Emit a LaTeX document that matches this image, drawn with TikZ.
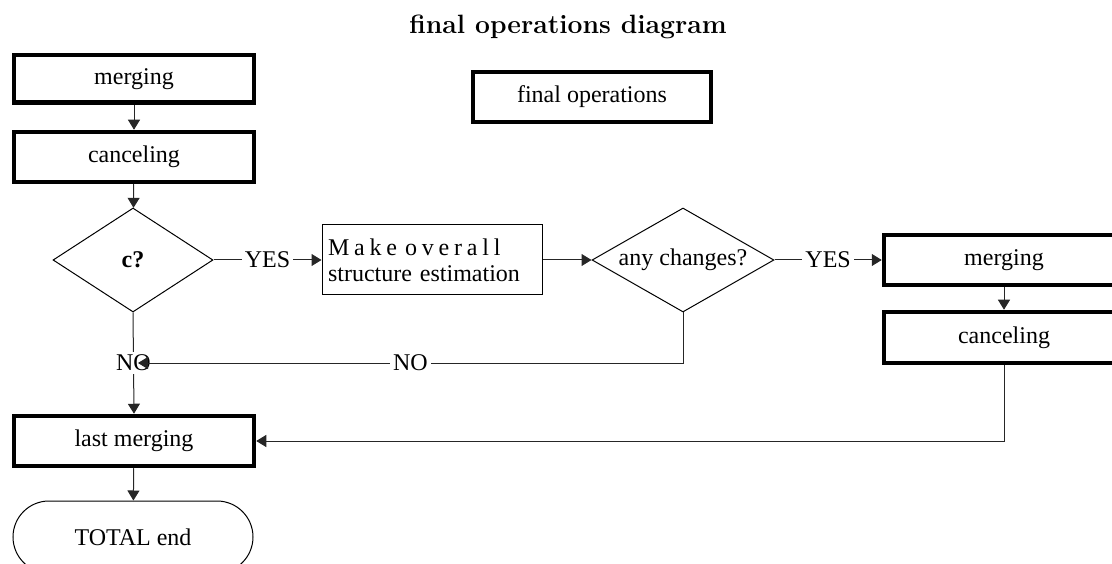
\documentclass[tikz,border=0pt]{standalone}
\usepackage{fontspec}
\newfontfamily\tnr{Liberation Serif}
\usetikzlibrary{shapes.geometric,arrows.meta}
\begin{document}
\begin{tikzpicture}[x=1pt,y=-1pt,
  every node/.style={font=\tnr\fontsize{24}{26}\selectfont},
  thickbox/.style={draw=black, line width=4.5pt, rectangle, minimum width=240pt,
    minimum height=48pt, inner sep=0pt, fill=white},
  decision/.style={draw=black, line width=1pt, shape=diamond, inner sep=0pt},
  flow/.style={draw=black!85, line width=1pt, -{Triangle[length=10pt,width=12pt]}},
  tag/.style={fill=white, inner sep=3pt}
]
\useasboundingbox (0,0) rectangle (1112,564);
\clip (0,0) rectangle (1112,564);

% title and legend box
\node[font=\normalfont\bfseries\fontsize{26.5}{30}\selectfont] (title) at (568,27) {final operations diagram};
\node[thickbox, minimum width=238pt, minimum height=50pt] (fo) at (592,97) {final operations};

% left column
\node[thickbox, minimum height=47.5pt] (m1) at (134,79) {merging};
\node[thickbox, minimum height=50pt] (c1) at (134,157) {canceling};
\node[decision, minimum width=160pt, minimum height=104pt] (q1) at (133,260) {\makebox[0pt]{\bfseries c?}};
\node[thickbox, minimum height=50pt] (lm) at (134,441) {last merging};
\node[draw=black, line width=1pt, rounded corners=36pt, minimum width=240pt,
  minimum height=72pt] (end) at (133,537) {TOTAL end};

% middle
\node[draw=black, line width=1pt, text width=208pt, align=left, inner xsep=6pt,
  minimum height=70pt] (mk) at (432,260)
  {{\addfontfeature{LetterSpace=20}Make overall}\\structure estimation};
\node[decision, minimum width=182pt, minimum height=104pt] (q2) at (683,260) {\makebox[0pt]{any changes?}};

% right column
\node[thickbox, minimum height=50pt] (m2) at (1004,260) {merging};
\node[thickbox, minimum height=51pt] (c2) at (1004,337.5) {canceling};

\coordinate (join) at (138,363);

% connectors
\draw[flow] (m1) -- (c1);
\draw[flow] (c1) -- (q1);
\draw[flow] (q1.east) -- node[tag]{YES} (mk.west);
\draw[flow] (mk.east) -- (q2.west);
\draw[flow] (q2.east) -- node[tag]{YES} (m2.west);
\draw[flow] (m2) -- (c2);
\draw[flow] (c2.south) |- (lm.east);
\draw[flow] (q1.south) -- node[tag]{NO} (lm.north);
\draw[flow] (q2.south) |- node[tag, pos=0.75]{NO} (join);
\draw[flow] (lm) -- (end);
\end{tikzpicture}
\end{document}
